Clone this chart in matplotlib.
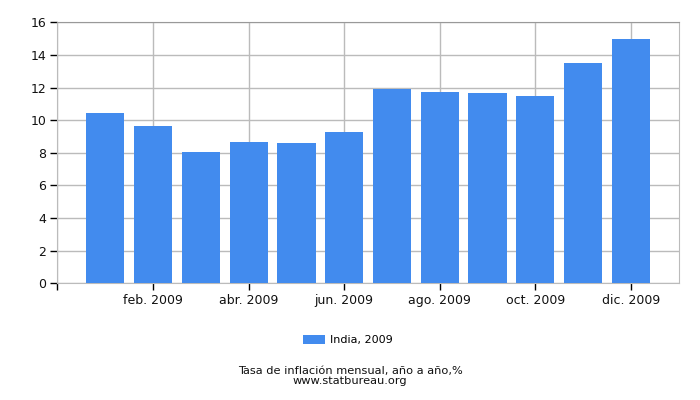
import matplotlib
matplotlib.use("Agg")
import matplotlib.pyplot as plt

months = ["ene. 2009", "feb. 2009", "mar. 2009", "abr. 2009", "may. 2009", "jun. 2009",
          "jul. 2009", "ago. 2009", "sep. 2009", "oct. 2009", "nov. 2009", "dic. 2009"]
values = [10.45, 9.63, 8.05, 8.66, 8.60, 9.28, 11.91, 11.73, 11.67, 11.49, 13.51, 14.97]
series_label = "India, 2009"
title_text = "Tasa de inflación mensual, año a año,%"
source_text = "www.statbureau.org"
yticks = [0, 2, 4, 6, 8, 10, 12, 14, 16]

plt.rcParams['font.family'] = ['DejaVu Sans']
fig = plt.figure(figsize=(7, 4), dpi=100)
ax = fig.add_axes([0.0821, 0.2918, 0.9696 - 0.0821, 0.944 - 0.2918])

x = list(range(len(values)))
ax.bar(x, values, width=0.8, color="#428BEE", label=series_label, zorder=3)

ax.set_xlim(-1, 12)
ax.set_ylim(0, 16)
ax.set_yticks(yticks)
ax.set_yticklabels([str(v) for v in yticks], fontsize=9)
tick_pos = [-1] + [i for i in x if i % 2 == 1]
tick_lab = [""] + [months[i] for i in x if i % 2 == 1]
ax.set_xticks(tick_pos)
ax.set_xticklabels(tick_lab, fontsize=9)

ax.grid(True, color="#BBBBBB", linewidth=1, zorder=0)
ax.set_axisbelow(True)
for s in ["left", "right", "bottom"]:
    ax.spines[s].set_color("#BBBBBB")
ax.spines["top"].set_color("#999999")
ax.tick_params(axis="both", length=5, width=1, color="black", pad=3, labelcolor="#111111")
ax.tick_params(axis="x", pad=3)

leg = fig.legend(loc="center", bbox_to_anchor=(0.497, 1 - 340 / 400), frameon=False,
                 fontsize=8, handlelength=2.0, handleheight=0.9, handletextpad=0.4)

fig.text(0.5, 1 - 371 / 400, title_text, ha="center", va="center", fontsize=8.2, color="#111111")
fig.text(0.5, 1 - 381.5 / 400, source_text, ha="center", va="center", fontsize=8.2, color="#111111")

fig.savefig("out.png", dpi=100)
